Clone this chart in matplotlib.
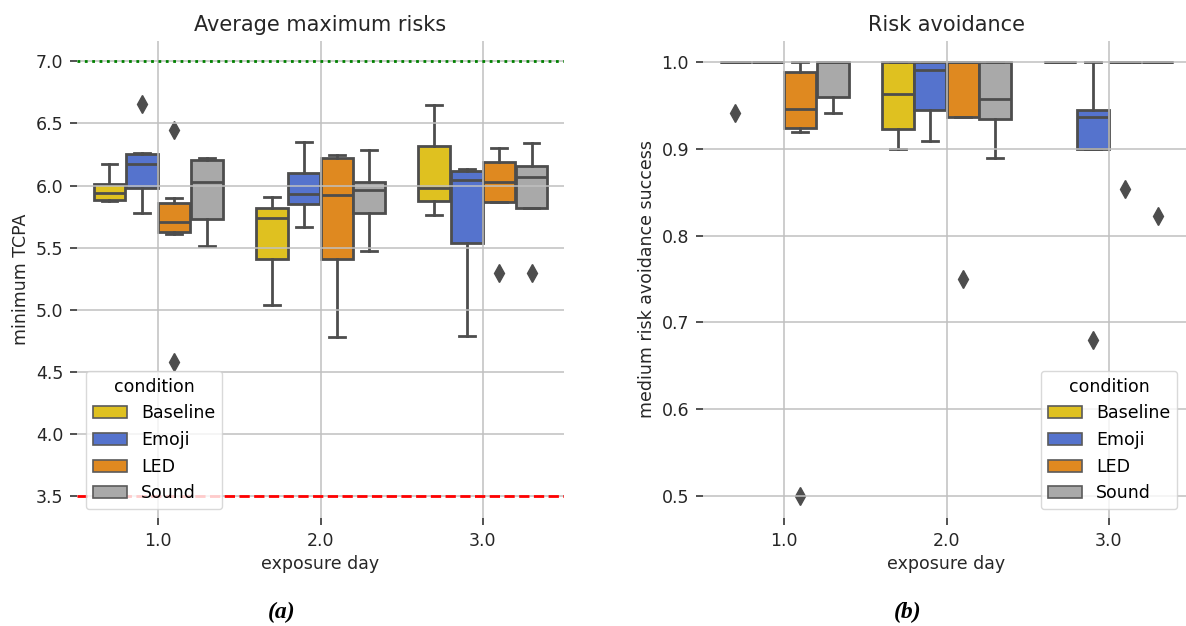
import matplotlib
matplotlib.use('Agg')
import matplotlib.pyplot as plt
from matplotlib.patches import Patch

# categories
days = ['1.0', '2.0', '3.0']
conditions = ['Baseline', 'Emoji', 'LED', 'Sound']
colors = ['#DFC120', '#5573CD', '#DF8920', '#A9A9A9']

# minimum TCPA box stats, rows = condition, cols = exposure day
tcpa_whislo = [[5.875, 5.035, 5.766],
               [5.78, 5.664, 4.785],
               [5.613, 4.78, 5.871],
               [5.51, 5.47, 5.82]]
tcpa_q1 = [[5.882, 5.406, 5.874],
           [5.98, 5.85, 5.538],
           [5.627, 5.409, 5.871],
           [5.731, 5.78, 5.82]]
tcpa_med = [[5.944, 5.739, 5.98],
            [6.172, 5.935, 6.048],
            [5.707, 5.922, 6.032],
            [6.032, 5.962, 6.067]]
tcpa_q3 = [[6.014, 5.823, 6.317],
           [6.256, 6.099, 6.121],
           [5.863, 6.223, 6.188],
           [6.204, 6.027, 6.159]]
tcpa_whishi = [[6.177, 5.906, 6.65],
               [6.26, 6.352, 6.134],
               [5.90, 6.242, 6.30],
               [6.218, 6.285, 6.344]]
tcpa_fliers = [[[], [], []],
               [[6.66], [], []],
               [[6.444, 4.58], [], [5.296]],
               [[], [], [5.296]]]

# medium risk avoidance success box stats
risk_whislo = [[1.0, 0.900, 1.0],
               [1.0, 0.909, 0.900],
               [0.919, 0.937, 1.0],
               [0.941, 0.889, 1.0]]
risk_q1 = [[1.0, 0.923, 1.0],
           [1.0, 0.944, 0.900],
           [0.924, 0.937, 1.0],
           [0.959, 0.934, 1.0]]
risk_med = [[1.0, 0.963, 1.0],
            [1.0, 0.991, 0.937],
            [0.946, 1.0, 1.0],
            [1.0, 0.957, 1.0]]
risk_q3 = [[1.0, 1.0, 1.0],
           [1.0, 1.0, 0.944],
           [0.988, 1.0, 1.0],
           [1.0, 1.0, 1.0]]
risk_whishi = [[1.0, 1.0, 1.0],
               [1.0, 1.0, 1.0],
               [1.0, 1.0, 1.0],
               [1.0, 1.0, 1.0]]
risk_fliers = [[[0.941], [], []],
               [[], [], [0.68]],
               [[0.50], [0.75], [0.854]],
               [[], [], [0.823]]]

line_gray = '#4D4D4D'
lw = 2.0
offsets = [-0.3, -0.1, 0.1, 0.3]
fs = 12.5


def draw_panel(ax, whislo, q1, med, q3, whishi, fliers):
    for i, cond in enumerate(conditions):
        stats = []
        for j in range(len(days)):
            stats.append(dict(whislo=whislo[i][j], q1=q1[i][j], med=med[i][j],
                              q3=q3[i][j], whishi=whishi[i][j], fliers=fliers[i][j]))
        positions = [j + offsets[i] for j in range(len(days))]
        ax.bxp(stats, positions=positions, widths=0.196, patch_artist=True,
               manage_ticks=False,
               boxprops=dict(facecolor=colors[i], edgecolor=line_gray, linewidth=lw),
               medianprops=dict(color=line_gray, linewidth=lw),
               whiskerprops=dict(color=line_gray, linewidth=lw),
               capprops=dict(color=line_gray, linewidth=lw),
               flierprops=dict(marker='d', markerfacecolor=line_gray,
                               markeredgecolor=line_gray, markersize=9))
    ax.set_xlim(-0.5, 2.5)
    ax.set_xticks(range(len(days)))
    ax.set_xticklabels(days)
    ax.set_axisbelow(False)
    ax.grid(True, color='#c0c0c0', linewidth=1.1)
    for s in ax.spines.values():
        s.set_visible(False)
    ax.tick_params(length=5, width=1.2, color='#333333', labelsize=fs,
                   labelcolor='#262626', pad=5)
    ax.set_xlabel('exposure day', fontsize=fs, color='#262626')
    handles = [Patch(facecolor=c, edgecolor='#5a5a5a', linewidth=1.2) for c in colors]
    return handles


fig = plt.figure(figsize=(11.86, 6.26), dpi=100)
ax1 = fig.add_axes([77 / 1186, 108 / 626, 487 / 1186, 477 / 626])
ax2 = fig.add_axes([703 / 1186, 108 / 626, 487 / 1186, 477 / 626])

h = draw_panel(ax1, tcpa_whislo, tcpa_q1, tcpa_med, tcpa_q3, tcpa_whishi, tcpa_fliers)
ax1.axhline(7.0, color='green', linestyle=':', linewidth=2, zorder=3)
ax1.axhline(3.5, color='red', linestyle='--', linewidth=2, zorder=3)
ax1.set_ylim(3.323, 7.164)
ax1.set_yticks([3.5, 4.0, 4.5, 5.0, 5.5, 6.0, 6.5, 7.0])
ax1.set_ylabel('minimum TCPA', fontsize=fs, color='#262626')
ax1.set_title('Average maximum risks', fontsize=15, color='#262626', pad=7)
ax1.legend(h, conditions, title='condition', loc='lower left', fontsize=fs,
           title_fontsize=fs, framealpha=0.8, edgecolor='#d0d0d0')

h = draw_panel(ax2, risk_whislo, risk_q1, risk_med, risk_q3, risk_whishi, risk_fliers)
ax2.set_ylim(0.4747, 1.024)
ax2.set_yticks([0.5, 0.6, 0.7, 0.8, 0.9, 1.0])
ax2.set_ylabel('medium risk avoidance success', fontsize=fs, color='#262626')
ax2.set_title('Risk avoidance', fontsize=15, color='#262626', pad=7)
ax2.legend(h, conditions, title='condition', loc='lower right', fontsize=fs,
           title_fontsize=fs, framealpha=0.8, edgecolor='#d0d0d0',
           bbox_to_anchor=(0.992, 0.0))

for x, lab in [(282, '(a)'), (908, '(b)')]:
    fig.text(x / 1186, 1 - 612 / 626, lab, ha='center', va='center',
             fontfamily='Liberation Serif', fontweight='bold', fontstyle='italic',
             fontsize=17)

fig.savefig('out.png', dpi=100)
